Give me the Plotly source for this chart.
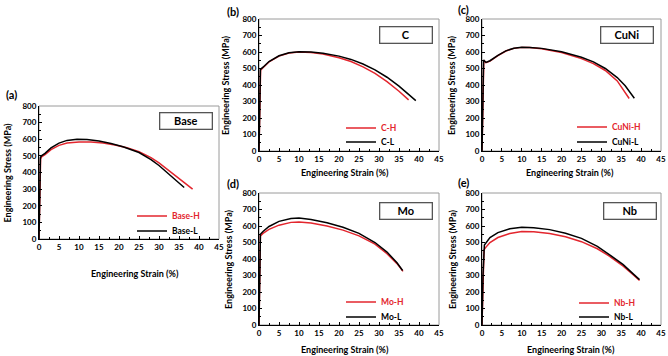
import plotly.graph_objects as go

# ---------------- data ----------------
panel_letters = ["(a)", "(b)", "(c)", "(d)", "(e)"]
panel_names = ["Base", "C", "CuNi", "Mo", "Nb"]
series_h_names = ["Base-H", "C-H", "CuNi-H", "Mo-H", "Nb-H"]
series_l_names = ["Base-L", "C-L", "CuNi-L", "Mo-L", "Nb-L"]

base_h_strain = [0, 0.25, 0.4, 0.7, 1.5, 3, 5, 7, 10, 13, 16, 19, 22, 25, 28, 30, 32, 34, 36, 38.4]
base_h_stress = [0, 300, 482, 495, 508, 538, 563, 577, 584, 583, 577, 566, 549, 525, 490, 458, 422, 385, 345, 300]
base_l_strain = [0, 0.2, 0.35, 0.6, 1.5, 3, 5, 7, 9.5, 12, 15, 18, 21, 25, 28, 30, 32, 34, 35, 36.3]
base_l_stress = [0, 300, 490, 500, 515, 548, 577, 593, 600, 598, 590, 575, 555, 520, 478, 442, 402, 362, 337, 310]

c_h_strain = [0, 0.25, 0.4, 1, 2.5, 5, 7.5, 10, 13, 16, 20, 23, 26, 29, 32, 35, 37.4]
c_h_stress = [0, 300, 490, 505, 540, 575, 594, 600, 597, 588, 565, 542, 510, 470, 420, 362, 310]
c_l_strain = [0, 0.2, 0.35, 1, 2.5, 5, 7.5, 10, 13, 16, 20, 23, 26, 29, 32, 35, 37, 39.2]
c_l_stress = [0, 300, 495, 508, 542, 577, 596, 602, 600, 593, 575, 555, 527, 492, 447, 393, 352, 305]

cuni_h_strain = [0, 0.25, 0.45, 1, 2, 4, 6, 8, 10, 12, 15, 20, 25, 28, 31, 34, 37.0]
cuni_h_stress = [0, 320, 550, 535, 545, 578, 606, 622, 628, 627, 620, 597, 560, 530, 488, 425, 318]
cuni_l_strain = [0, 0.2, 0.4, 1, 2, 4, 6, 8, 10, 12, 15, 20, 25, 28, 31, 34, 36, 38.3]
cuni_l_stress = [0, 320, 552, 537, 547, 580, 607, 623, 629, 628, 622, 602, 568, 540, 500, 445, 395, 320]

mo_h_strain = [0, 0.2, 0.35, 1, 2.5, 5, 8, 10, 13, 17, 21, 25, 29, 32, 34.5, 36]
mo_h_stress = [0, 320, 540, 555, 580, 605, 622, 625, 618, 600, 575, 540, 490, 432, 372, 325]
mo_l_strain = [0, 0.2, 0.35, 1, 2.5, 5, 8, 10, 13, 17, 21, 25, 29, 32, 34.5, 35.9]
mo_l_stress = [0, 320, 550, 567, 597, 628, 645, 648, 640, 620, 592, 555, 500, 442, 377, 330]

nb_h_strain = [0, 0.25, 0.5, 1, 2, 4, 7, 10, 13, 17, 21, 25, 29, 32, 35.5, 38, 39.6]
nb_h_stress = [0, 280, 455, 472, 500, 530, 555, 567, 565, 555, 535, 505, 462, 418, 357, 305, 270]
nb_l_strain = [0, 0.25, 0.6, 1, 2, 4, 7, 10, 13, 17, 21, 25, 29, 32, 35.5, 38, 39.6]
nb_l_stress = [0, 300, 485, 500, 530, 560, 583, 592, 590, 578, 556, 525, 477, 427, 366, 310, 275]

x_title = "Engineering Strain (%)"
y_title = "Engineering Stress (MPa)"

strain_h = [base_h_strain, c_h_strain, cuni_h_strain, mo_h_strain, nb_h_strain]
stress_h = [base_h_stress, c_h_stress, cuni_h_stress, mo_h_stress, nb_h_stress]
strain_l = [base_l_strain, c_l_strain, cuni_l_strain, mo_l_strain, nb_l_strain]
stress_l = [base_l_stress, c_l_stress, cuni_l_stress, mo_l_stress, nb_l_stress]

# ---------------- layout helpers ----------------
W, H = 668, 356
RED = "#e3262e"
FONT = "Lato"
BOLD = 700


def px(x):
    return x / W


def py(y):
    return 1 - y / H


# plot boxes in pixels: (left, right, top, bottom)
boxes = [(39, 219, 106, 239), (259, 439, 19, 151), (482, 661, 19, 151),
         (259, 439, 193, 325), (482, 661, 193, 325)]
letter_pos = [(11, 95), (233, 11), (463, 10), (233, 183), (463, 182)]
ytitle_x = [7, 226, 452, 228, 452]
xtitle_pos = [(135, 273), (345, 172), (570, 172), (345, 349), (571, 349)]
namebox = [(185.5, 120.5), (406, 35), (627, 35), (406, 211), (629.5, 211)]
# (text start x, centre y of H entry, centre y of L entry)
legend_pos = [(177, 216, 231), (386, 128, 142), (617, 127, 142), (386, 302, 317), (619, 303, 317)]

fig = go.Figure()
annotations = []
shapes = []
layout = dict(width=W, height=H, margin=dict(l=0, r=0, t=0, b=0, pad=0, autoexpand=False),
              paper_bgcolor="white", plot_bgcolor="white", showlegend=True,
              font=dict(family=FONT, color="black"))


def ann(text, x, y, size, **kw):
    d = dict(text=text, x=px(x), y=py(y), xref="paper", yref="paper", showarrow=False,
             xanchor="center", yanchor="middle",
             font=dict(family=FONT, size=size, weight=BOLD, color="black"))
    d.update(kw)
    return d


for i in range(5):
    k = "" if i == 0 else str(i + 1)
    xa, ya = "x" + k, "y" + k
    lg_h = "legend" + str(2 * i + 2)
    lg_l = "legend" + str(2 * i + 3)
    l, r, t, b = boxes[i]
    fig.add_trace(go.Scatter(x=strain_h[i], y=stress_h[i], mode="lines",
                             line=dict(color=RED, width=1.5),
                             name=f"<span style='color:{RED}'>{series_h_names[i]}</span>",
                             xaxis=xa, yaxis=ya, legend=lg_h, showlegend=True))
    fig.add_trace(go.Scatter(x=strain_l[i], y=stress_l[i], mode="lines",
                             line=dict(color="black", width=1.5),
                             name=series_l_names[i],
                             xaxis=xa, yaxis=ya, legend=lg_l, showlegend=True))
    tickfont = dict(family=FONT, size=8, weight=BOLD, color="black")
    layout["xaxis" + k] = dict(domain=[px(l), px(r)], anchor=ya, range=[0, 45],
                               tick0=0, dtick=5, showgrid=False, zeroline=False,
                               showline=True, linecolor="black", linewidth=1,
                               ticks="inside", ticklen=3, tickcolor="black",
                               minor=dict(dtick=2.5, ticks="inside", ticklen=2, tickcolor="black"),
                               tickfont=tickfont, fixedrange=True, automargin=False)
    layout["yaxis" + k] = dict(domain=[py(b), py(t)], anchor=xa, range=[0, 800],
                               tick0=0, dtick=100, showgrid=False, zeroline=False,
                               showline=True, linecolor="black", linewidth=1,
                               ticks="inside", ticklen=3, tickcolor="black",
                               minor=dict(dtick=50, ticks="inside", ticklen=2, tickcolor="black"),
                               tickfont=tickfont, fixedrange=True, automargin=False)
    lx, lyh, lyl = legend_pos[i]
    for name, yy in ((lg_h, lyh), (lg_l, lyl)):
        layout[name] = dict(x=px(lx - 45), y=py(yy), xanchor="left", yanchor="middle",
                            bgcolor="rgba(0,0,0,0)", borderwidth=0, visible=True,
                            font=dict(family=FONT, size=8.5, weight=BOLD, color="black"),
                            itemwidth=30, tracegroupgap=0)
    # grey frame
    shapes.append(dict(type="rect", xref=xa + " domain", yref=ya + " domain",
                       x0=0, x1=1, y0=0, y1=1, line=dict(color="#9a9a9a", width=1),
                       layer="below"))
    annotations.append(ann(panel_letters[i], *letter_pos[i], 11))
    annotations.append(ann(y_title, ytitle_x[i], (t + b) / 2, 9, textangle=-90))
    annotations.append(ann(x_title, *xtitle_pos[i], 9))
    annotations.append(ann(panel_names[i], *namebox[i], 11,
                           width=50, height=14, borderpad=0.5, borderwidth=1.3,
                           bordercolor="#555555", bgcolor="white"))

layout["annotations"] = annotations
layout["shapes"] = shapes
fig.update_layout(**layout)
fig.write_html("out.html", config={"displayModeBar": False},
               post_script="document.body.style.margin='0';document.body.style.overflow='hidden';")
